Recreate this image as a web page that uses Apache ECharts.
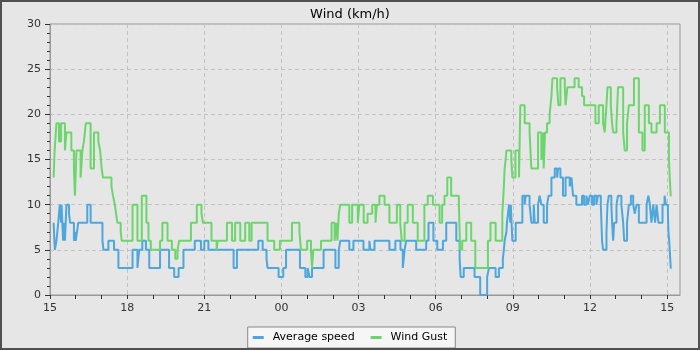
<!DOCTYPE html>
<html><head><meta charset="utf-8">
<script src="https://cdn.jsdelivr.net/npm/echarts@6/dist/echarts.min.js"></script>
<style>
html,body{margin:0;padding:0;background:#e6e6e6;}
#wrap{position:relative;width:700px;height:350px;}
#c{width:700px;height:350px;}
#frame{position:absolute;left:0;top:0;width:700px;height:350px;box-sizing:border-box;border:2px solid #505050;pointer-events:none;}
</style></head>
<body>
<div id="wrap"><div id="c"></div><div id="frame"></div></div>
<script>
// Hours elapsed since 15:00 (start of the chart) and values in km/h
const xTickHours = [0,3,6,9,12,15,18,21,24];
const startClockHour = 15;

const avgHours = [0.14,0.17,0.19,0.25,0.32,0.38,0.43,0.45,0.48,0.51,0.55,0.58,0.64,0.74,0.78,0.93,0.97,1.00,1.05,1.10,1.45,1.58,2.04,2.08,2.27,2.49,2.66,3.21,3.40,3.47,3.59,3.73,3.86,4.28,4.63,4.83,5.00,5.19,5.63,5.87,6.00,6.16,7.14,7.27,8.10,8.27,8.42,8.46,8.89,9.07,9.18,9.72,9.93,10.02,10.09,10.19,10.64,11.10,11.23,11.29,11.64,11.80,12.19,12.42,12.46,12.62,13.20,13.43,13.63,13.72,13.79,13.85,14.24,14.63,14.72,14.91,15.06,15.28,15.41,15.80,15.93,15.97,16.09,16.51,16.73,17.00,17.07,17.33,17.46,17.61,17.65,17.68,17.75,17.77,17.81,17.85,17.90,17.92,17.98,18.11,18.37,18.46,18.50,18.65,18.72,18.81,18.85,18.98,19.04,19.11,19.20,19.33,19.39,19.50,19.63,19.72,19.76,19.85,19.95,20.05,20.21,20.28,20.34,20.47,20.69,20.77,20.86,20.92,20.99,21.08,21.16,21.25,21.31,21.42,21.47,21.51,21.64,21.68,21.73,21.83,21.86,21.90,21.94,22.03,22.09,22.22,22.29,22.33,22.44,22.51,22.59,22.68,22.74,22.81,22.90,23.20,23.27,23.33,23.39,23.46,23.53,23.59,23.66,23.82,23.90,23.95,24.03,24.05,24.08,24.10,24.14,24.17];
const avgKmh = [8,6,5,6,8,10,8,10,8,6,8,6,10,9,8,6,7,6,7,8,10,8,6,5,6,5,3,5,3,5,6,5,3,5,3,2,3,5,6,5,6,5,3,5,6,5,4,3,2,3,5,3,2,3,2,3,5,3,5,6,5,6,5,6,5,6,5,6,5,3,5,6,5,6,8,6,5,6,8,6,4,2,3,2,0,2,3,2,3,4,5,6,7,8,9,10,8,10,6,8,11,10,11,10,8,10,8,10,11,10,8,10,11,13,14,13,14,13,11,13,12,13,11,10,11,10,11,10,11,10,11,10,11,10,6,5,7,10,11,10,8,6,8,10,11,10,8,6,8,10,11,10,9,10,8,10,11,10,8,10,8,10,8,10,11,10,9,7,6,5,3,3];

const gustHours = [0.14,0.18,0.25,0.35,0.43,0.58,0.64,0.83,0.93,0.97,1.03,1.19,1.26,1.32,1.39,1.58,1.71,1.88,1.95,2.01,2.06,2.39,2.45,2.52,2.57,2.62,2.75,2.79,3.21,3.40,3.57,3.75,3.83,3.92,4.28,4.37,4.57,4.74,4.87,4.96,5.02,5.48,5.71,5.89,5.95,6.28,6.48,6.52,6.88,7.08,7.20,7.40,7.59,7.75,7.84,8.46,8.72,8.94,9.41,9.70,9.76,10.00,10.15,10.19,10.24,10.54,10.95,11.07,11.13,11.18,11.23,11.29,11.64,11.75,11.97,12.03,12.20,12.35,12.53,12.66,12.71,12.81,13.01,13.20,13.49,13.62,13.68,13.79,13.91,14.11,14.30,14.56,14.69,14.89,15.15,15.25,15.34,15.45,15.60,15.90,15.95,16.03,16.19,16.38,16.54,17.03,17.13,17.33,17.59,17.65,17.68,17.72,17.75,17.94,17.98,18.10,18.24,18.29,18.46,18.65,18.72,18.98,19.11,19.17,19.20,19.25,19.33,19.43,19.50,19.54,19.72,19.77,19.85,20.02,20.05,20.12,20.40,20.56,20.69,20.77,21.21,21.34,21.51,21.57,21.64,21.68,21.81,21.86,21.90,22.03,22.09,22.29,22.35,22.44,22.51,22.71,22.90,23.04,23.13,23.29,23.39,23.59,23.72,23.91,24.07,24.10,24.14,24.17];
const gustKmh = [13,16,19,17,19,16,18,16,14,11,16,13,16,17,19,14,18,17,16,14,13,12,11,10,9,8,7,6,10,6,11,8,6,5,6,8,6,5,4,5,6,8,10,9,8,6,5,6,8,6,8,6,8,6,8,6,5,6,8,7,5,6,5,3,5,6,8,6,8,6,9,10,8,10,8,10,8,9,10,8,10,11,10,8,10,8,6,8,10,8,6,10,11,10,8,10,11,13,11,10,5,6,8,6,3,6,8,6,9,12,14,15,16,15,13,16,13,21,19,18,14,18,15,18,14,18,19,20,22,24,23,21,24,23,21,23,24,23,22,21,19,21,19,18,21,23,21,19,18,19,23,18,16,19,21,24,18,16,21,19,18,19,21,18,15,13,11,11];

const seriesNames = ['Average speed','Wind Gust'];

const zip = (xs, ys) => xs.map((x, i) => [x, ys[i]]);
const pad2 = n => (n < 10 ? '0' : '') + n;
const hourTicks = [];
for (let h = 0; h <= 24; h++) hourTicks.push(h);

const font = 'DejaVu Sans';
const chart = echarts.init(document.getElementById('c'), null, {renderer: 'canvas'});
chart.setOption({
  backgroundColor: '#e6e6e6',
  animation: false,
  title: {
    text: 'Wind (km/h)', left: 'center', top: 3,
    textStyle: {fontFamily: font, fontSize: 13, fontWeight: 'normal', color: '#000'}
  },
  grid: {left: 50, right: 20, top: 24, bottom: 55, show: true, borderColor: '#999', borderWidth: 1, backgroundColor: 'transparent'},
  legend: {
    bottom: 2, left: 'center',
    data: seriesNames,
    icon: 'rect', itemWidth: 11, itemHeight: 3, itemGap: 16,
    backgroundColor: '#f6f6f6', borderColor: '#888', borderWidth: 1, borderRadius: 0,
    padding: [5, 8, 5, 5],
    textStyle: {fontFamily: font, fontSize: 11, color: '#000', padding: [0, 0, 0, 4]}
  },
  xAxis: [{
    type: 'value', min: 0, max: 24.5, interval: 3,
    axisLine: {show: true, lineStyle: {color: '#999'}},
    axisTick: {show: true, length: 4, customValues: xTickHours, lineStyle: {color: '#333'}},
    axisLabel: {
      customValues: xTickHours, margin: 8,
      fontFamily: font, fontSize: 11, color: '#333',
      formatter: v => pad2((startClockHour + Math.round(v)) % 24)
    },
    splitLine: {show: true, lineStyle: {color: '#c2c2c2', type: [4, 3], width: 1}}
  }, {
    type: 'value', min: 0, max: 24.5, position: 'bottom',
    axisLine: {show: false},
    axisTick: {show: true, length: 4, customValues: hourTicks, lineStyle: {color: '#333'}},
    axisLabel: {show: false},
    splitLine: {show: false}
  }],
  yAxis: {
    type: 'value', min: 0, max: 30, interval: 5,
    axisLine: {show: true, lineStyle: {color: '#999'}},
    axisTick: {show: true, length: 5, lineStyle: {color: '#333'}},
    minorTick: {show: true, splitNumber: 5, length: 3, lineStyle: {color: '#333'}},
    axisLabel: {margin: 9, fontFamily: font, fontSize: 11, color: '#333'},
    splitLine: {show: true, lineStyle: {color: '#c2c2c2', type: [4, 3], width: 1}}
  },
  series: [
    {name: seriesNames[0], type: 'line', step: 'end', showSymbol: false, data: zip(avgHours, avgKmh),
     color: '#4da6dc', lineStyle: {width: 2, color: '#4da6dc'}},
    {name: seriesNames[1], type: 'line', step: 'end', showSymbol: false, data: zip(gustHours, gustKmh),
     color: '#6cd66c', lineStyle: {width: 2, color: '#6cd66c'}}
  ]
});
</script>
</body></html>
